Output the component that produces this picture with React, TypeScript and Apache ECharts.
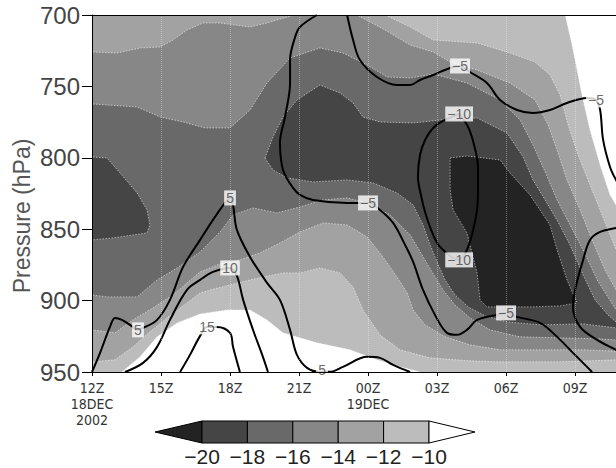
import { useEffect, useRef } from "react";
import * as echarts from "echarts";

// ---------- axes ----------
const hourTicks = [0, 3, 6, 9, 12, 15, 18, 21];
const hourTickLabels = ["12Z\n18DEC\n2002", "15Z", "18Z", "21Z", "00Z\n19DEC", "03Z", "06Z", "09Z"];
const pressureTicks = [700, 750, 800, 850, 900, 950];
const visibleHours = 22.78; // the plot is cut off at the right edge near 10:47Z

// ---------- shading levels (°C) ----------
const shadeLevels = [-20, -18, -16, -14, -12, -10];
const levelColors = ["#232323", "#454545", "#696969", "#878787", "#a2a2a2", "#bcbcbc", "#ffffff"];
const colorbarLabels = ["−20", "−18", "−16", "−14", "−12", "−10"];

// ---------- filled regions, points are [hours since 12Z 18DEC, hPa] ----------
const domain = [[-1, 690], [26, 690], [26, 960], [-1, 960]];

const warmerThanM10TopRight = [
  [20.5, 690], [20.57, 700], [20.87, 721], [21.13, 742], [21.3, 756], [21.65, 780.5], [22.09, 805],
  [22.52, 826], [22.78, 833], [23.83, 840], [26, 845], [26, 690],
];
const warmerThanM10Bottom = [
  [1.2, 960], [1.3, 950], [1.52, 947.1], [2.09, 939.4], [2.83, 925.4], [3.7, 915.6], [4.7, 909.3],
  [5.87, 906.5], [6.87, 906.5], [7.61, 913.5], [8.3, 922.6], [9.78, 929.6], [11.22, 934.5],
  [12.39, 941.5], [13.39, 946.4], [14.26, 950], [14.4, 960],
];
const colderThanM12 = [
  [-1, 690], [12.7, 690], [12.74, 700], [13.83, 708.4], [14.83, 717.5], [16.74, 719.6], [18.17, 726.6],
  [19.26, 732.9], [19.91, 742], [20.35, 756], [20.7, 777], [21.13, 798], [21.65, 819], [22.09, 836.5],
  [22.61, 857.5], [22.78, 864.5], [23.83, 878.5], [26, 885], [26, 943], [23.83, 942.9], [22.78, 941.5],
  [20.35, 942.9], [17.74, 942.9], [16.43, 942.2], [14.7, 940.1], [13.39, 934.5], [12.52, 924],
  [11.78, 906.5], [11.35, 890.4], [10.78, 880.6], [9.91, 877.1], [9.04, 880.6], [8.3, 880.6],
  [6.87, 885.5], [5.13, 892.5], [4.7, 894.6], [4.13, 901.6], [3.26, 912.1], [2.52, 921.9],
  [1.78, 932.4], [1.0, 941.5], [0, 942.9], [-1, 943],
];
const colderThanM14 = [
  [-1, 726], [0, 725.9], [1.09, 726.6], [2.09, 723.1], [2.96, 722.4], [3.52, 717.5], [4.13, 710.5],
  [4.83, 705.6], [5.57, 705.6], [6.87, 708.4], [7.61, 705.6], [8.48, 701.4], [8.83, 700], [8.9, 690],
  [11.45, 690], [11.52, 700], [12.74, 710.5], [13.83, 721], [14.83, 725.9], [15.57, 732.9],
  [16.74, 738.5], [18.17, 747.6], [19.26, 759.5], [19.83, 777], [20.22, 794.5], [20.65, 815.5],
  [21.22, 836.5], [21.74, 857.5], [22.3, 878.5], [22.78, 892.5], [23.83, 910], [26, 920], [26, 936],
  [23.83, 936], [21.35, 934.5], [19.48, 934.5], [17.74, 934.5], [16.43, 931], [15.35, 925.4],
  [14.48, 917], [13.96, 906.5], [13.7, 894.6], [13.26, 883.4], [12.65, 869.4], [11.96, 855.4],
  [11.09, 847], [10.04, 845.6], [9.04, 851.9], [8.17, 859.6], [7.3, 866.6], [6.43, 871.5],
  [5.57, 874.3], [4.7, 879.9], [3.52, 896], [2.65, 905.1], [1.78, 913.5], [1.0, 922.6], [0, 920.5],
  [-1, 920],
];
const colderThanM16 = [
  [-1, 762], [0, 762.3], [1.96, 764.4], [2.96, 771.4], [3.96, 774.9], [4.91, 779.1], [6.0, 779.1],
  [6.87, 766.5], [7.61, 747.6], [8.61, 730.1], [9.91, 723.1], [10.91, 726.6], [11.96, 735],
  [12.83, 743.4], [13.83, 744.1], [14.83, 741.3], [16.3, 747.6], [17.74, 759.5], [18.61, 773.5],
  [19.17, 791], [19.7, 809.9], [20.22, 829.5], [20.78, 847], [21.35, 864.5], [21.96, 885.5],
  [22.78, 906.5], [23.83, 920.5], [26, 925], [26, 929], [23.83, 928.9], [22.09, 926.8], [20.35, 926.1],
  [18.61, 925.4], [17.3, 920.5], [16.43, 912.1], [15.78, 903], [15.26, 892.5], [14.78, 879.9],
  [14.35, 868], [13.83, 854], [12.96, 840], [11.96, 831.6], [11.09, 828.1], [10.04, 829.5],
  [9.04, 834.4], [8.04, 838.6], [7.0, 835.1], [6.13, 840], [5.57, 851.9], [4.7, 865.9], [3.7, 877.1],
  [2.83, 885.5], [1.96, 897.4], [0.65, 897.4], [0, 896], [-1, 896],
];
const colderThanM18West = [
  [-1, 799], [0, 799.4], [0.65, 800.1], [1.22, 810.6], [1.96, 824.6], [2.39, 836.5], [2.52, 847],
  [2.39, 852.6], [0.91, 856.1], [0, 857.5], [-1, 857.5],
];
const colderThanM18East = [
  [7.52, 800.1], [7.87, 785.4], [8.3, 771.4], [8.91, 759.5], [9.91, 749], [10.78, 754.6],
  [11.35, 761.6], [11.78, 771.4], [12.52, 774.9], [13.96, 775.6], [15.57, 772.8], [16.74, 772.1],
  [18.04, 782.6], [18.74, 799.4], [19.17, 815.5], [19.7, 829.5], [20.26, 844.9], [20.78, 861],
  [21.35, 882], [21.87, 899.5], [22.43, 910], [22.78, 914.9], [23.83, 917.7], [23.83, 919.5],
  [22.78, 919.1], [21.35, 916.3], [19.48, 917], [18.04, 914.9], [17.09, 910.7], [16.35, 904.4],
  [15.78, 896], [15.35, 885.5], [15.0, 872.9], [14.7, 861], [14.39, 847], [13.96, 833],
  [13.26, 824.6], [12.22, 817.6], [11.09, 815.5], [9.61, 816.9], [8.48, 814.1], [7.87, 808.5],
];
const colderThanM20 = [
  [15.57, 800.1], [16.3, 798.7], [17.74, 801.5], [18.17, 810.6], [19.04, 826], [19.91, 847],
  [20.22, 864.5], [20.65, 885.5], [21.09, 901.6], [20.35, 903.7], [19.17, 904.4], [17.17, 904.4],
  [16.87, 899.5], [16.74, 880.6], [16.3, 852.6], [15.7, 836.5], [15.57, 822.5],
];

// ---------- line contours ----------
const lineMinus5West = [
  [9.78, 700], [9.04, 708.4], [8.83, 715.4], [8.61, 731.5], [8.61, 747.6], [8.39, 771.4], [8.17, 789.6],
  [8.22, 801.5], [8.35, 810.6], [8.74, 821.1], [9.04, 826], [9.61, 829.5], [11.09, 831.6], [12.0, 831.6],
  [12.52, 836.5], [13.09, 845.6], [13.61, 861], [13.96, 872.9], [14.39, 892.5], [14.91, 910],
  [15.43, 922.6], [15.87, 924], [16.3, 920.5], [16.74, 913.5], [17.61, 910], [18.0, 908.6],
  [18.48, 911.4], [19.48, 915.6], [20.22, 925.4], [20.91, 936.6], [21.52, 946.4], [21.74, 950],
];
const lineMinus5North = [
  [11.09, 700], [11.35, 717.5], [11.65, 731.5], [12.39, 743.4], [13.26, 749], [13.83, 749],
  [14.26, 745.5], [14.83, 742], [15.57, 737.1], [16.0, 735.7], [16.43, 739.9], [17.17, 747.6],
  [17.74, 759.5], [18.48, 766.5], [19.17, 768.6], [19.91, 766.5], [20.65, 761.6], [21.52, 758.1],
  [21.91, 759.5], [22.09, 766.5], [22.22, 787.5], [22.52, 806.4], [22.78, 815.5], [23.17, 826],
];
const lineMinus5East = [
  [23.17, 847], [22.78, 849.1], [22.09, 851.9], [21.65, 857.5], [21.35, 871.5], [21.0, 892.5],
  [20.91, 904.4], [21.22, 918.4], [21.96, 927.5], [22.78, 934.5], [23.17, 938],
];
const lineMinus10 = [
  [15.96, 769.3], [15.26, 774.2], [14.83, 779.1], [14.48, 787.5], [14.26, 798], [14.17, 813.4],
  [14.3, 826], [14.48, 837.9], [14.78, 851.9], [15.13, 862.4], [15.96, 871.5], [16.3, 864.5],
  [16.57, 850.5], [16.74, 836.5], [16.78, 822.5], [16.78, 806.4], [16.61, 791], [16.35, 778.4],
  [15.96, 769.3],
];
const linePlus5 = [
  [0, 950], [0.35, 936.6], [0.78, 918.4], [1.0, 912.1], [1.3, 913.5], [1.78, 918.4], [1.96, 920.5],
  [2.22, 919.1], [2.83, 913.5], [3.39, 899.5], [3.96, 876.4], [4.7, 857.5], [5.26, 843.5],
  [5.78, 831.6], [6.0, 828.1], [6.13, 833], [6.3, 850.5], [6.87, 869.4], [7.61, 887.6], [8.17, 899.5],
  [8.61, 920.5], [8.91, 938], [9.35, 947.1], [9.91, 949.9], [10.35, 949.9], [10.91, 946.4],
  [11.96, 939.4], [12.52, 940.1], [13.09, 945], [13.83, 950],
];
const linePlus10 = [
  [1.43, 950], [2.22, 943.6], [2.83, 932.4], [3.39, 913.5], [4.13, 892.5], [4.7, 885.5], [5.26, 879.9],
  [6.0, 877.1], [6.3, 882.7], [6.57, 899.5], [7.0, 920.5], [7.43, 939.4], [7.65, 950],
];
const linePlus15 = [
  [3.83, 950], [4.26, 938], [4.7, 924.7], [5.0, 918.4], [5.43, 918.4], [6.0, 922.6], [6.13, 932.4],
  [6.43, 950],
];
const contourLabels: [number, number, string][] = [
  [12.0, 831.6, "−5"], [18.0, 908.6, "−5"], [16.0, 735.7, "−5"], [21.91, 759.5, "−5"],
  [15.96, 769.3, "−10"], [15.96, 871.5, "−10"],
  [2.0, 920.5, "5"], [6.0, 828.1, "5"], [10.0, 948.6, "5"],
  [6.0, 877.1, "10"], [5.0, 918.4, "15"],
];

const fillLayers = [
  { color: levelColors[5], polys: [domain], edge: false },
  { color: levelColors[6], polys: [warmerThanM10TopRight, warmerThanM10Bottom], edge: true },
  { color: levelColors[4], polys: [colderThanM12], edge: true },
  { color: levelColors[3], polys: [colderThanM14], edge: true },
  { color: levelColors[2], polys: [colderThanM16], edge: true },
  { color: levelColors[1], polys: [colderThanM18West, colderThanM18East], edge: true },
  { color: levelColors[0], polys: [colderThanM20], edge: true },
];
const contourLines = [lineMinus5West, lineMinus5North, lineMinus5East, lineMinus10, linePlus5, linePlus10, linePlus15];

const FONT = '"Liberation Sans", Arial, sans-serif';
const NARROW = '"Liberation Sans Narrow", "DejaVu Sans Condensed", "Liberation Sans", sans-serif';

function buildOption() {
  const cbLeft = 202;
  const cbStep = 45.4;
  const cbTop = 421;
  const cbH = 22;
  const cbGraphics: any[] = [];
  cbGraphics.push({
    type: "polygon",
    shape: { points: [[cbLeft - 47, cbTop + cbH / 2], [cbLeft, cbTop], [cbLeft, cbTop + cbH]] },
    style: { fill: levelColors[0], stroke: "#000", lineWidth: 1 },
  });
  for (let i = 1; i < shadeLevels.length; i++) {
    cbGraphics.push({
      type: "rect",
      shape: { x: cbLeft + (i - 1) * cbStep, y: cbTop, width: cbStep, height: cbH },
      style: { fill: levelColors[i], stroke: "#000", lineWidth: 1 },
    });
  }
  const cbRight = cbLeft + (shadeLevels.length - 1) * cbStep;
  cbGraphics.push({
    type: "polygon",
    shape: { points: [[cbRight, cbTop], [cbRight + 46, cbTop + cbH / 2], [cbRight, cbTop + cbH]] },
    style: { fill: levelColors[6], stroke: "#000", lineWidth: 1 },
  });
  colorbarLabels.forEach((t, i) => {
    cbGraphics.push({
      type: "text",
      x: cbLeft + i * cbStep,
      y: 456,
      style: {
        text: t, fill: "#222", font: `21px ${FONT}`,
        align: "center", verticalAlign: "middle", textAlign: "center", textVerticalAlign: "middle",
      },
    });
  });

  const series: any[] = [
    {
      type: "custom",
      clip: true,
      silent: true,
      z: 1,
      data: fillLayers.map((_, i) => [i, 800]),
      renderItem: (params: any, api: any) => {
        const layer = fillLayers[params.dataIndex];
        return {
          type: "group",
          children: layer.polys.map((poly) => ({
            type: "polygon",
            shape: { points: poly.map((pt) => api.coord(pt)) },
            style: {
              fill: layer.color,
              stroke: layer.edge ? "rgba(255,255,255,0.75)" : null,
              lineWidth: 0.7,
              lineDash: [1.5, 1.5],
            },
          })),
        };
      },
    },
  ];
  contourLines.forEach((pts, idx) => {
    series.push({
      type: "line",
      data: pts,
      smooth: 0.35,
      symbol: "none",
      silent: true,
      z: 3,
      clip: true,
      lineStyle: { color: "#000", width: 2 },
      markLine: idx === 0 ? {
        silent: true,
        symbol: ["none", "none"],
        label: { show: false },
        lineStyle: { color: "rgba(255,255,255,0.35)", type: "dotted", width: 1 },
        data: hourTicks.slice(1).map((h) => ({ xAxis: h })),
      } : undefined,
    });
  });
  series.push({
    type: "scatter",
    data: contourLabels,
    symbol: "circle",
    symbolSize: 1,
    silent: true,
    z: 5,
    itemStyle: { color: "rgba(0,0,0,0)" },
    label: {
      show: true,
      position: "inside",
      formatter: (p: any) => p.value[2],
      color: "#444",
      fontSize: 14,
      fontFamily: FONT,
      backgroundColor: "#fff",
      padding: [1, 2, 0, 2],
    },
  });

  return {
    animation: false,
    backgroundColor: "#fff",
    grid: { left: 92, top: 15, right: 0, height: 357 },
    xAxis: [
      {
        type: "value", min: 0, max: visibleHours, interval: 3, position: "bottom", z: 10,
        axisLine: { show: true, onZero: false, lineStyle: { color: "#000", width: 1 } },
        axisTick: { show: true, length: 4, lineStyle: { color: "#000" } },
        splitLine: { show: false },
        axisLabel: {
          formatter: (v: number) => {
            const i = hourTicks.indexOf(v);
            return i >= 0 ? hourTickLabels[i] : "";
          },
          fontSize: 14, lineHeight: 16, color: "#333", fontFamily: NARROW, margin: 8,
          showMaxLabel: false,
        },
      },
      {
        type: "value", min: 0, max: visibleHours, position: "top", z: 10,
        axisLine: { show: true, onZero: false, lineStyle: { color: "#000", width: 1 } },
        axisTick: { show: false }, axisLabel: { show: false }, splitLine: { show: false },
      },
    ],
    yAxis: {
      type: "value", inverse: true, min: pressureTicks[0], max: pressureTicks[pressureTicks.length - 1],
      interval: 50, z: 10,
      axisLine: { show: true, onZero: false, lineStyle: { color: "#000", width: 1 } },
      axisTick: { show: true, length: 10, lineStyle: { color: "#000" } },
      splitLine: { show: false },
      axisLabel: { fontSize: 24, color: "#444", margin: 12, fontFamily: FONT },
    },
    graphic: [
      {
        type: "text",
        x: 22,
        y: 216,
        rotation: Math.PI / 2,
        style: {
          text: "Pressure (hPa)", fill: "#555", font: `23px ${FONT}`,
          align: "center", verticalAlign: "middle", textAlign: "center", textVerticalAlign: "middle",
        },
      },
      ...cbGraphics,
    ],
    series,
  };
}

export default function App() {
  const ref = useRef<HTMLDivElement>(null);
  useEffect(() => {
    if (!ref.current) return;
    const chart = echarts.init(ref.current, undefined, { renderer: "svg" });
    chart.setOption(buildOption() as any);
    return () => chart.dispose();
  }, []);
  return (
    <div
      ref={ref}
      style={{ position: "absolute", left: 0, top: 0, width: 616, height: 468, background: "#fff" }}
    />
  );
}
